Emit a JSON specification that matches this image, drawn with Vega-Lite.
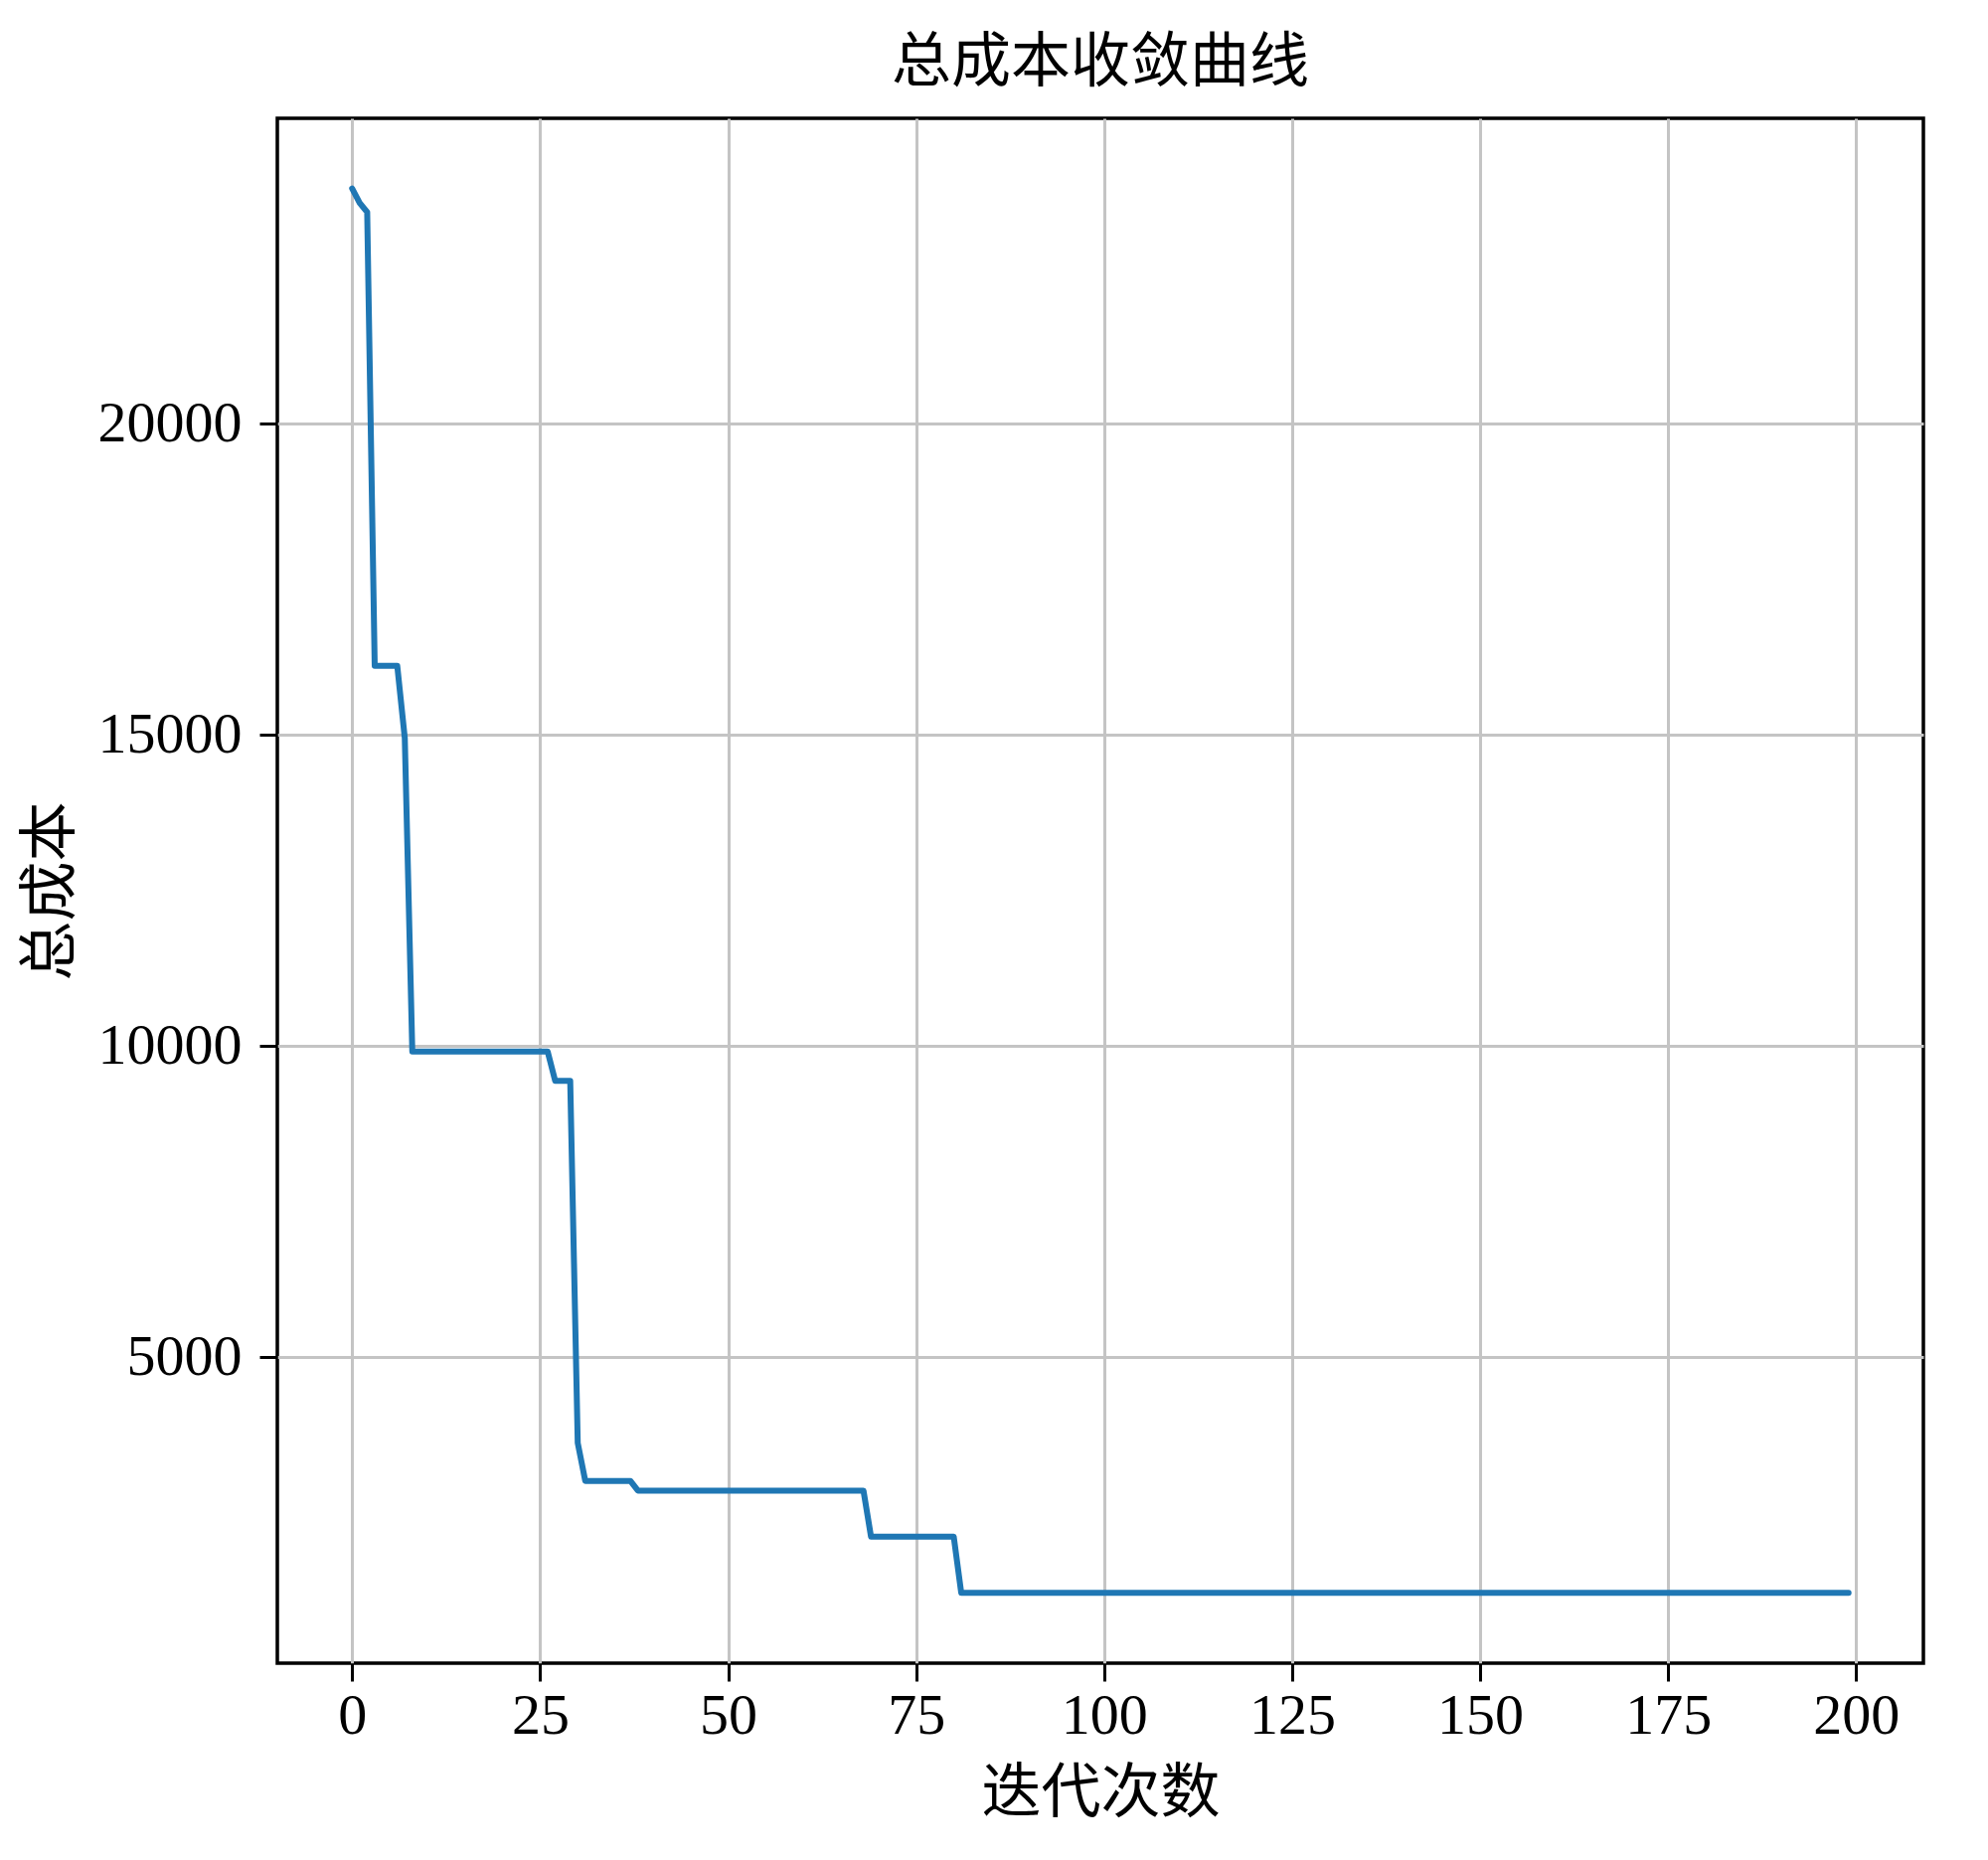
{
  "$schema": "https://vega.github.io/schema/vega-lite/v6.json",
  "autosize": "none",
  "width": 1656,
  "height": 1554,
  "padding": {"left": 279, "top": 119, "right": 65, "bottom": 198},
  "background": "white",
  "title": {
    "text": "总成本收敛曲线",
    "font": "Noto Sans CJK SC",
    "fontSize": 60,
    "fontWeight": "normal",
    "color": "black",
    "anchor": "middle",
    "offset": 24
  },
  "config": {
    "view": {"stroke": "black", "strokeWidth": 3.5},
    "axis": {
      "labelFont": "Liberation Serif",
      "labelFontSize": 58,
      "labelColor": "black",
      "titleFont": "Noto Sans CJK SC",
      "titleFontSize": 60,
      "titleFontWeight": "normal",
      "titleColor": "black",
      "tickColor": "black",
      "tickWidth": 3,
      "tickSize": 18,
      "domain": false,
      "grid": true,
      "gridColor": "#c4c4c4",
      "gridWidth": 3
    }
  },
  "data": {"values": [
    {"i":0,"c":23780},{"i":1,"c":23550},{"i":2,"c":23400},{"i":3,"c":16110},{"i":4,"c":16110},{"i":5,"c":16110},{"i":6,"c":16110},{"i":7,"c":14950},
    {"i":8,"c":9910},{"i":9,"c":9910},{"i":10,"c":9910},{"i":11,"c":9910},{"i":12,"c":9910},{"i":13,"c":9910},{"i":14,"c":9910},{"i":15,"c":9910},{"i":16,"c":9910},{"i":17,"c":9910},{"i":18,"c":9910},{"i":19,"c":9910},{"i":20,"c":9910},{"i":21,"c":9910},{"i":22,"c":9910},{"i":23,"c":9910},{"i":24,"c":9910},{"i":25,"c":9910},{"i":26,"c":9910},
    {"i":27,"c":9440},{"i":28,"c":9440},{"i":29,"c":9440},{"i":30,"c":3620},
    {"i":31,"c":3010},{"i":32,"c":3010},{"i":33,"c":3010},{"i":34,"c":3010},{"i":35,"c":3010},{"i":36,"c":3010},{"i":37,"c":3010},
    {"i":38,"c":2855},{"i":39,"c":2855},{"i":40,"c":2855},{"i":41,"c":2855},{"i":42,"c":2855},{"i":43,"c":2855},{"i":44,"c":2855},{"i":45,"c":2855},{"i":46,"c":2855},{"i":47,"c":2855},{"i":48,"c":2855},{"i":49,"c":2855},{"i":50,"c":2855},{"i":51,"c":2855},{"i":52,"c":2855},{"i":53,"c":2855},{"i":54,"c":2855},{"i":55,"c":2855},{"i":56,"c":2855},{"i":57,"c":2855},{"i":58,"c":2855},{"i":59,"c":2855},{"i":60,"c":2855},{"i":61,"c":2855},{"i":62,"c":2855},{"i":63,"c":2855},{"i":64,"c":2855},{"i":65,"c":2855},{"i":66,"c":2855},{"i":67,"c":2855},{"i":68,"c":2855},
    {"i":69,"c":2115},{"i":70,"c":2115},{"i":71,"c":2115},{"i":72,"c":2115},{"i":73,"c":2115},{"i":74,"c":2115},{"i":75,"c":2115},{"i":76,"c":2115},{"i":77,"c":2115},{"i":78,"c":2115},{"i":79,"c":2115},{"i":80,"c":2115},
    {"i":81,"c":1210},{"i":82,"c":1210},{"i":83,"c":1210},{"i":84,"c":1210},{"i":85,"c":1210},{"i":86,"c":1210},{"i":87,"c":1210},{"i":88,"c":1210},{"i":89,"c":1210},{"i":90,"c":1210},
    {"i":91,"c":1210},{"i":92,"c":1210},{"i":93,"c":1210},{"i":94,"c":1210},{"i":95,"c":1210},{"i":96,"c":1210},{"i":97,"c":1210},{"i":98,"c":1210},{"i":99,"c":1210},{"i":100,"c":1210},
    {"i":101,"c":1210},{"i":102,"c":1210},{"i":103,"c":1210},{"i":104,"c":1210},{"i":105,"c":1210},{"i":106,"c":1210},{"i":107,"c":1210},{"i":108,"c":1210},{"i":109,"c":1210},{"i":110,"c":1210},
    {"i":111,"c":1210},{"i":112,"c":1210},{"i":113,"c":1210},{"i":114,"c":1210},{"i":115,"c":1210},{"i":116,"c":1210},{"i":117,"c":1210},{"i":118,"c":1210},{"i":119,"c":1210},{"i":120,"c":1210},
    {"i":121,"c":1210},{"i":122,"c":1210},{"i":123,"c":1210},{"i":124,"c":1210},{"i":125,"c":1210},{"i":126,"c":1210},{"i":127,"c":1210},{"i":128,"c":1210},{"i":129,"c":1210},{"i":130,"c":1210},
    {"i":131,"c":1210},{"i":132,"c":1210},{"i":133,"c":1210},{"i":134,"c":1210},{"i":135,"c":1210},{"i":136,"c":1210},{"i":137,"c":1210},{"i":138,"c":1210},{"i":139,"c":1210},{"i":140,"c":1210},
    {"i":141,"c":1210},{"i":142,"c":1210},{"i":143,"c":1210},{"i":144,"c":1210},{"i":145,"c":1210},{"i":146,"c":1210},{"i":147,"c":1210},{"i":148,"c":1210},{"i":149,"c":1210},{"i":150,"c":1210},
    {"i":151,"c":1210},{"i":152,"c":1210},{"i":153,"c":1210},{"i":154,"c":1210},{"i":155,"c":1210},{"i":156,"c":1210},{"i":157,"c":1210},{"i":158,"c":1210},{"i":159,"c":1210},{"i":160,"c":1210},
    {"i":161,"c":1210},{"i":162,"c":1210},{"i":163,"c":1210},{"i":164,"c":1210},{"i":165,"c":1210},{"i":166,"c":1210},{"i":167,"c":1210},{"i":168,"c":1210},{"i":169,"c":1210},{"i":170,"c":1210},
    {"i":171,"c":1210},{"i":172,"c":1210},{"i":173,"c":1210},{"i":174,"c":1210},{"i":175,"c":1210},{"i":176,"c":1210},{"i":177,"c":1210},{"i":178,"c":1210},{"i":179,"c":1210},{"i":180,"c":1210},
    {"i":181,"c":1210},{"i":182,"c":1210},{"i":183,"c":1210},{"i":184,"c":1210},{"i":185,"c":1210},{"i":186,"c":1210},{"i":187,"c":1210},{"i":188,"c":1210},{"i":189,"c":1210},{"i":190,"c":1210},
    {"i":191,"c":1210},{"i":192,"c":1210},{"i":193,"c":1210},{"i":194,"c":1210},{"i":195,"c":1210},{"i":196,"c":1210},{"i":197,"c":1210},{"i":198,"c":1210},{"i":199,"c":1210}
  ]},
  "mark": {"type": "line", "color": "#1f77b4", "strokeWidth": 6, "strokeJoin": "round", "strokeCap": "round"},
  "encoding": {
    "x": {
      "field": "i", "type": "quantitative",
      "scale": {"domain": [-9.95, 208.95], "nice": false, "zero": false},
      "axis": {"title": "迭代次数", "format": "d", "values": [0,25,50,75,100,125,150,175,200], "labelPadding": 6, "titlePadding": 20, "labelFlush": false}
    },
    "y": {
      "field": "c", "type": "quantitative",
      "scale": {"domain": [81.5, 24908.5], "nice": false, "zero": false},
      "axis": {"title": "总成本", "format": "d", "values": [5000,10000,15000,20000], "labelPadding": 18, "titlePadding": 16, "labelFlush": false}
    }
  }
}
